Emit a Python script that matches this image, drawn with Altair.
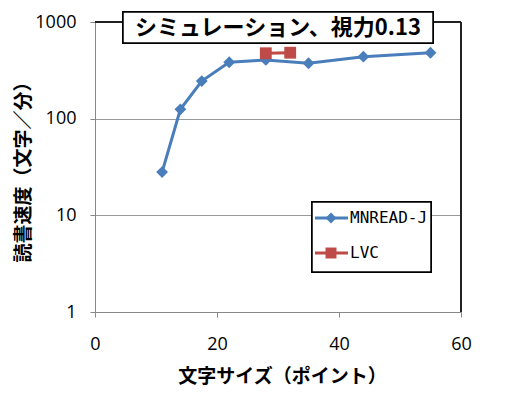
import altair as alt
import pandas as pd

# Data
mn_size = [11, 14, 17.5, 22, 28, 35, 44, 55]
mn_speed = [28, 125, 245, 383, 405, 374, 438, 481]
lvc_size = [28, 32]
lvc_speed = [475, 481]
series_names = ["MNREAD-J", "LVC"]
series_colors = ["#4A7EBB", "#BE4B48"]
x_ticks = [0, 20, 40, 60]
y_ticks = [1, 10, 100, 1000]
title_text = "シミュレーション、視力0.13"
x_title = "文字サイズ（ポイント）"
y_title = "読書速度（文字／分）"

W, H = 366, 290

mn = pd.DataFrame({"size": mn_size, "speed": mn_speed, "series": series_names[0]})
lvc = pd.DataFrame({"size": lvc_size, "speed": lvc_speed, "series": series_names[1]})

xs = alt.Scale(domain=[0, 60], nice=False)
ys = alt.Scale(type="log", domain=[1, 1000], nice=False)

x_axis = alt.Axis(values=x_ticks, grid=False, tickSize=5, labelPadding=18, labelFlush=False,
                  domainColor="#888888", tickColor="#888888",
                  labelFont="Open Sans", labelFontSize=18, labelColor="#000000",
                  title=x_title, titleFont="Noto Sans CJK JP", titleFontSize=19,
                  titleFontWeight="bold", titleColor="#000000",
                  titleX=187, titleY=64, titleBaseline="middle", titleAlign="center")
y_axis = alt.Axis(values=y_ticks, grid=True, gridColor="#999999", tickSize=5, labelPadding=14,
                  domainColor="#888888", tickColor="#888888", format="d",
                  labelFont="Open Sans", labelFontSize=18, labelColor="#000000",
                  title=y_title, titleFont="Noto Sans CJK JP", titleFontSize=19,
                  titleFontWeight="bold", titleColor="#000000",
                  titleX=-72, titleY=H / 2, titleAngle=270, titleBaseline="middle",
                  titleAlign="center")

base_mn = alt.Chart(mn).encode(
    x=alt.X("size:Q", scale=xs, axis=x_axis),
    y=alt.Y("speed:Q", scale=ys, axis=y_axis),
)
mn_line = base_mn.mark_line(color=series_colors[0], strokeWidth=3)
mn_pts = base_mn.mark_point(shape="diamond", filled=True, opacity=1, size=140, color=series_colors[0])

base_lvc = alt.Chart(lvc).encode(x=alt.X("size:Q", scale=xs), y=alt.Y("speed:Q", scale=ys))
lvc_line = base_lvc.mark_line(color=series_colors[1], strokeWidth=3)
lvc_pts = base_lvc.mark_point(shape="square", filled=True, opacity=1, size=140, color=series_colors[1])

# plot frame top/right (dark)
frame_top = alt.Chart(mn).mark_rule(color="#222222", strokeWidth=1).encode(
    x=alt.value(0), x2=alt.value(W), y=alt.value(0))
frame_right = alt.Chart(mn).mark_rule(color="#222222", strokeWidth=1).encode(
    x=alt.value(W), y=alt.value(0), y2=alt.value(H))

# title box
tbox = alt.Chart(mn).mark_rect(fill="white", stroke="black", strokeWidth=1.5).encode(
    x=alt.value(28), x2=alt.value(338), y=alt.value(-10), y2=alt.value(21))
ttext = alt.Chart(pd.DataFrame({"t": [title_text]})).mark_text(
    font="Noto Sans CJK JP", fontSize=22, fontWeight="bold", color="black",
    baseline="middle", align="center").encode(
    x=alt.value(183), y=alt.value(6), text="t:N")

# legend
lbox = alt.Chart(mn).mark_rect(fill="white", stroke="black", strokeWidth=1.5).encode(
    x=alt.value(217), x2=alt.value(336), y=alt.value(180), y2=alt.value(250))
leg_layers = []
for i, (name, col, shp) in enumerate(zip(series_names, series_colors, ["diamond", "square"])):
    yy = 196 + i * 35
    d = pd.DataFrame({"t": [name]})
    leg_layers.append(alt.Chart(d).mark_rule(color=col, strokeWidth=3).encode(
        x=alt.value(220), x2=alt.value(253), y=alt.value(yy)))
    leg_layers.append(alt.Chart(d).mark_point(shape=shp, filled=True, opacity=1, size=120, color=col).encode(
        x=alt.value(236), y=alt.value(yy)))
    leg_layers.append(alt.Chart(d).mark_text(font="DejaVu Sans Mono", fontSize=16, color="black",
                                             align="left", baseline="middle").encode(
        x=alt.value(255), y=alt.value(yy), text="t:N"))

chart = alt.layer(
    frame_top, frame_right, mn_line, mn_pts, lvc_line, lvc_pts, tbox, ttext, lbox, *leg_layers
).properties(
    width=W, height=H,
    autosize=alt.AutoSizeParams(type="none"),
    padding={"left": 87, "top": 14, "right": 37, "bottom": 77},
    background="white",
).configure_view(stroke=None)

chart.save("out.html", embed_options={"renderer": "svg", "actions": False})
